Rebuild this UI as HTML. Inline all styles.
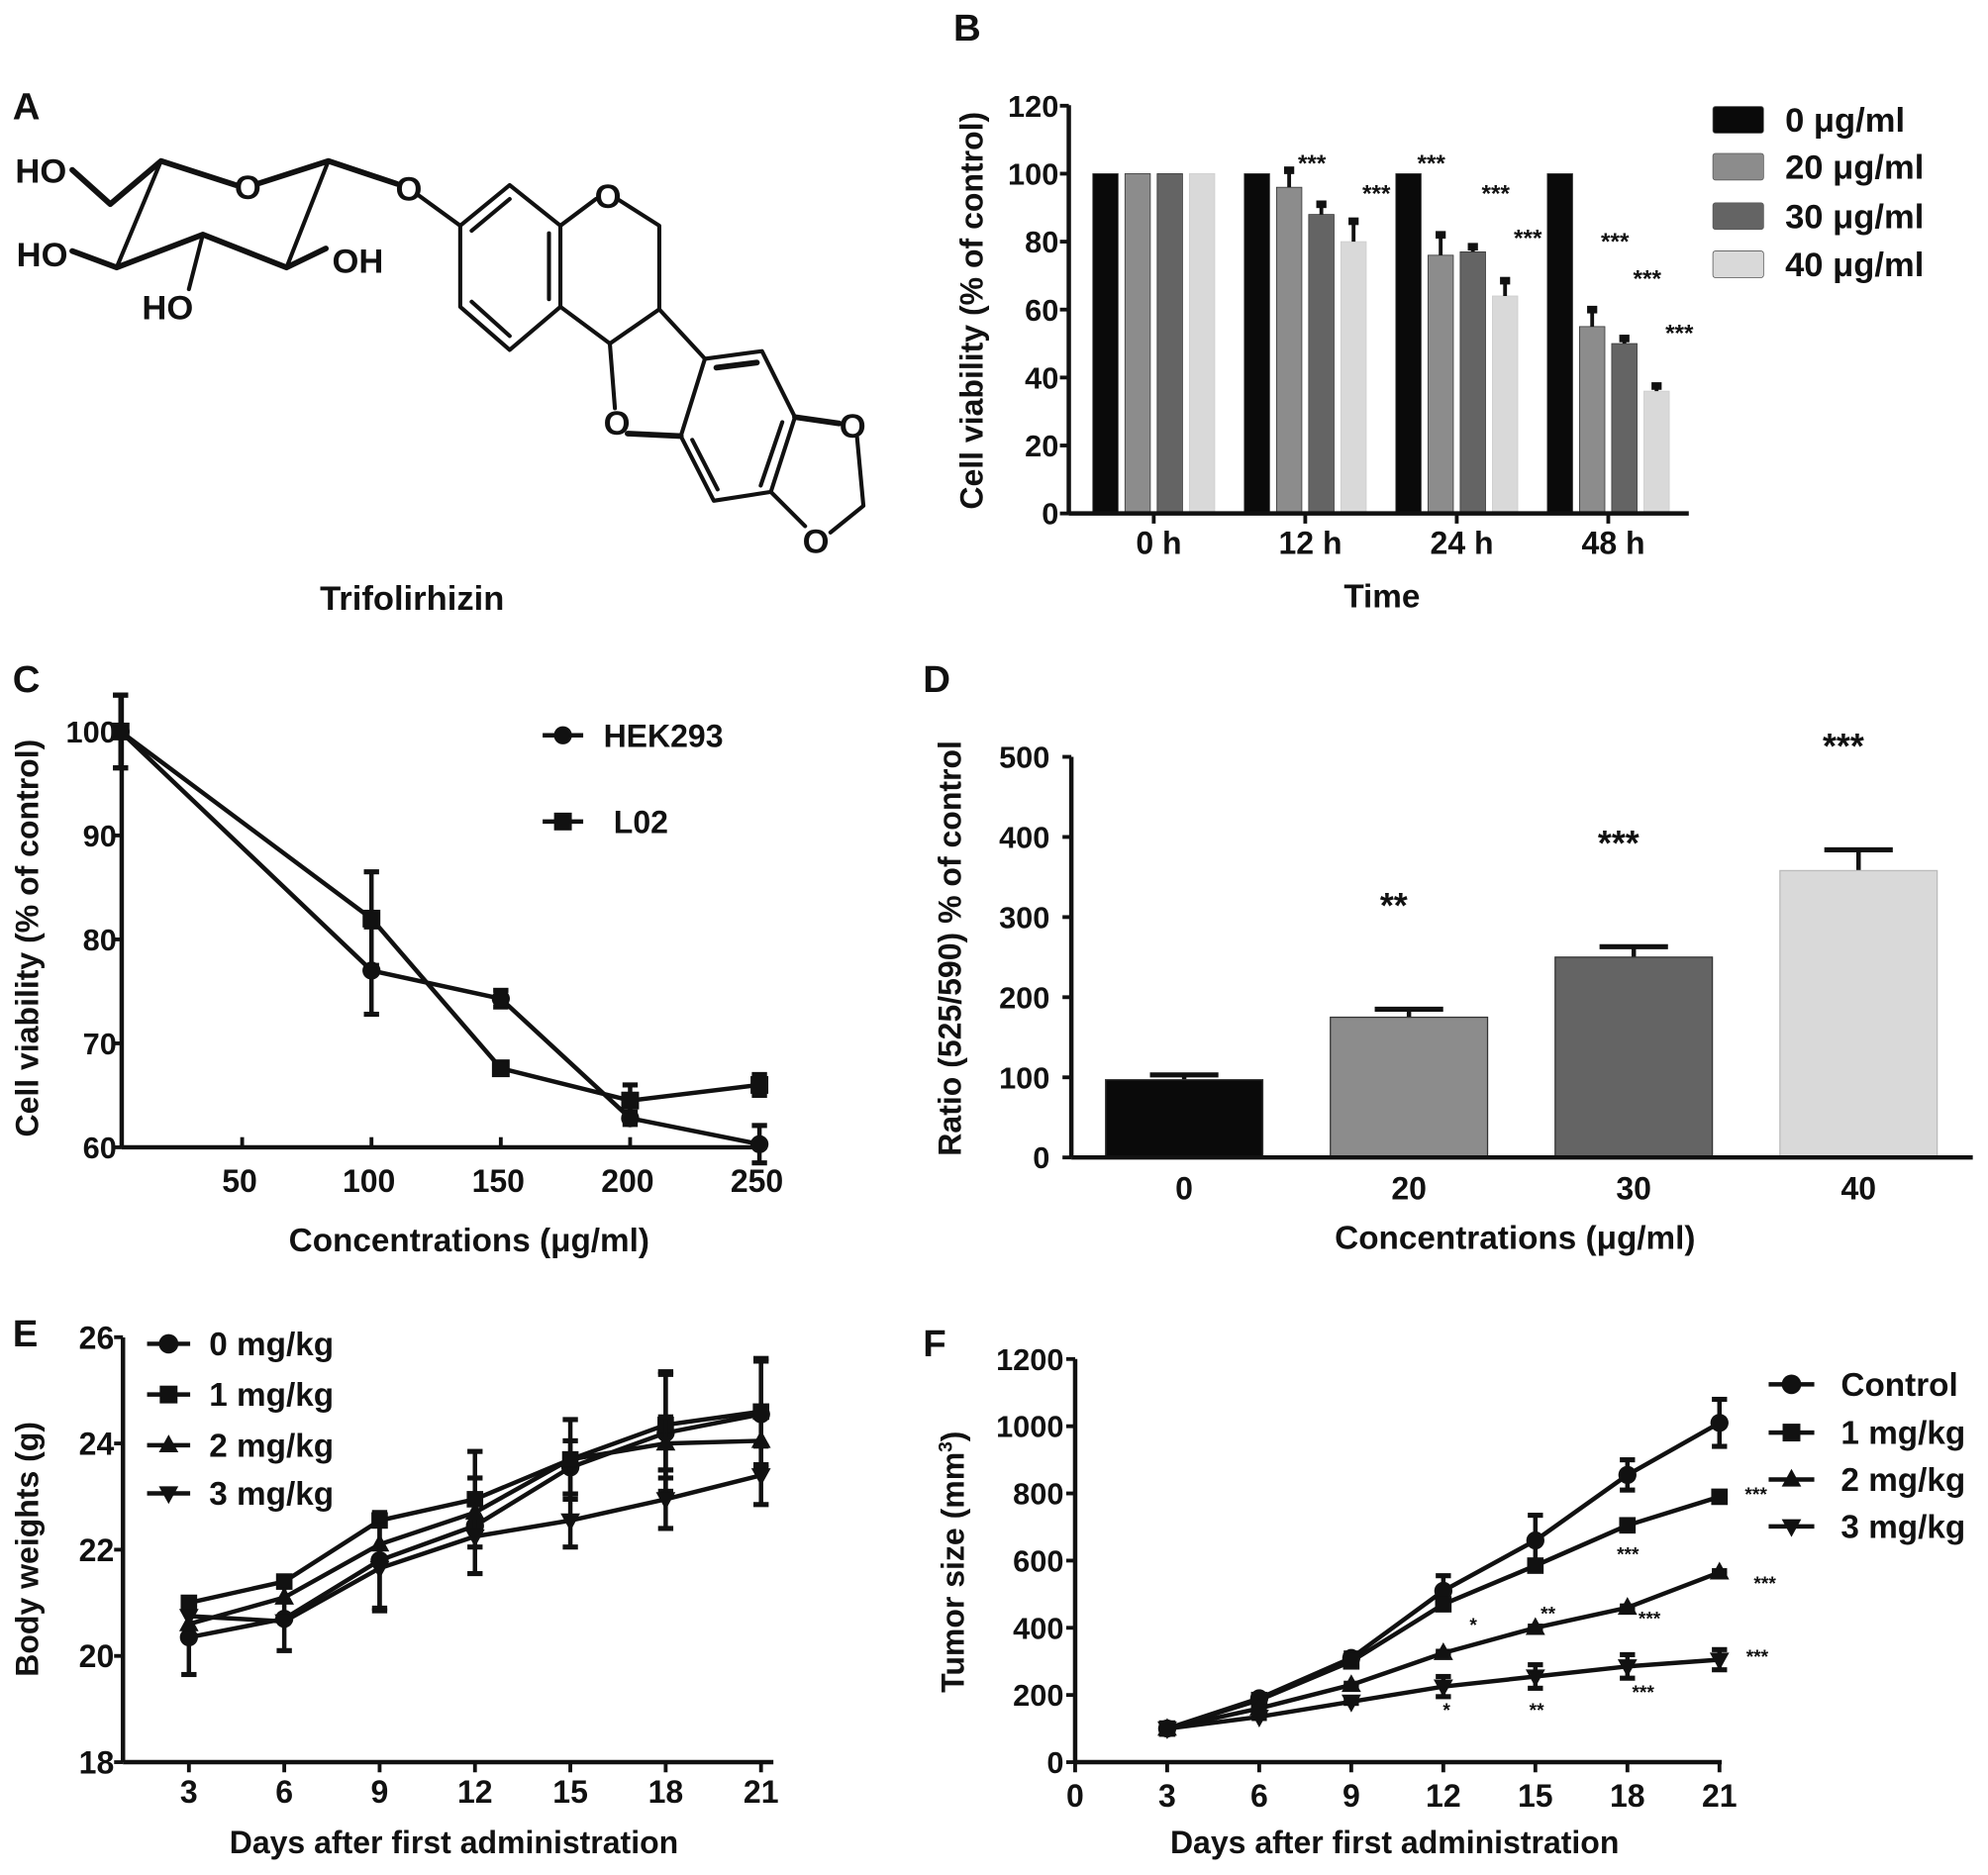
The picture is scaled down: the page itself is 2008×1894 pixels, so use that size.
<!DOCTYPE html>
<html><head><meta charset="utf-8">
<style>
html,body{margin:0;padding:0;background:#fff;}
svg{display:block;}
text{font-family:"Liberation Sans",sans-serif;font-weight:bold;fill:#111;}
.n{font-family:"Liberation Sans Narrow","Liberation Sans",sans-serif;}
</style></head>
<body>
<svg id="fig" xmlns="http://www.w3.org/2000/svg" width="2008" height="1894" viewBox="0 0 1568 1479" preserveAspectRatio="none">
<g id="panelA" stroke="#111" stroke-width="3.2" fill="none" stroke-linecap="round" stroke-linejoin="round">
<polyline points="57,134 87,161 127,127 186,146" stroke-width="4.5"/>
<polyline points="203,145 259,127 313,145" stroke-width="4.5"/>
<line x1="259" y1="127" x2="226" y2="211"/>
<line x1="127" y1="127" x2="92" y2="211"/>
<polyline points="57,198 92,211 160,185 226,211 257,196" stroke-width="4.5"/>
<line x1="160" y1="185" x2="149" y2="228"/>
<line x1="330" y1="154" x2="363" y2="178"/>
<polygon points="363,178 402,146 442,178 442,242 402,276 363,242"/>
<line x1="372" y1="182" x2="402" y2="157"/>
<line x1="433" y1="184" x2="433" y2="236"/>
<line x1="372" y1="238" x2="402" y2="265"/>
<polyline points="442,178 470,157"/>
<polyline points="487,157 520,178 520,244 481,271 442,242"/>
<line x1="481" y1="271" x2="485" y2="322"/>
<line x1="520" y1="244" x2="556" y2="283"/>
<line x1="495" y1="342" x2="537" y2="344" stroke-width="4.5"/>
<polygon points="537,344 556,283 601,277 627,329 608,388 563,395"/>
<line x1="565" y1="290" x2="597" y2="286" stroke-width="4.5"/>
<line x1="617" y1="333" x2="600" y2="383"/>
<line x1="546" y1="347" x2="566" y2="386"/>
<line x1="627" y1="329" x2="662" y2="334" stroke-width="4.5"/>
<polyline points="676,345 681,399 655,420"/>
<line x1="608" y1="388" x2="635" y2="415"/>
</g>
<g class="n" font-size="27">
<text class="n" x="12" y="144">HO</text>
<text class="n" x="13" y="210">HO</text>
<text class="n" x="112" y="252">HO</text>
<text class="n" x="262" y="215">OH</text>
<text class="n" x="185" y="157">O</text>
<text class="n" x="312" y="158">O</text>
<text class="n" x="469" y="164">O</text>
<text class="n" x="476" y="343">O</text>
<text class="n" x="662" y="345">O</text>
<text class="n" x="633" y="436">O</text>
</g>
<text class="n" x="325" y="481" font-size="27" text-anchor="middle">Trifolirhizin</text>
<text x="10" y="94" font-size="30">A</text>
<text x="752" y="32" font-size="30">B</text>
<text x="10" y="546" font-size="30">C</text>
<text x="728" y="546" font-size="30">D</text>
<text x="10" y="1062" font-size="30">E</text>
<text x="728" y="1070" font-size="30">F</text>
<g id="chartB"></g>
<g id="chartC"></g>
<g id="chartD"></g>
<g id="chartE"></g>
<g id="chartF"></g>
</svg>
<script>
// ---- Panel B data ----
const bCategories = ["0 h","12 h","24 h","48 h"];
const bSeriesNames = ["0  μg/ml","20 μg/ml","30 μg/ml","40 μg/ml"];
const b0 = [100,100,100,100];
const b20 = [100,96,76,55];
const b30 = [100,88,77,50];
const b40 = [100,80,64,36];
const b20err = [0,5,6,5];
const b30err = [0,3,1.5,1.5];
const b40err = [0,6,4.5,1.5];
const bTicks = [0,20,40,60,80,100,120];
const bStars = [["","","",""],["","***","","***"],["***","","***","***"],["","***","***","***"]];
const bStarY = [[0,0,0,0],[0,103,0,94],[103,0,94,81],[0,80,69,53]];
// ---- Panel C data ----
const cConc = [3,100,150,200,250];
const cHEK = [100,77,74.3,62.8,60.3];
const cHEKerr = [3.5,4.2,0.8,0.6,1.8];
const cL02 = [100,82,67.6,64.5,66];
const cL02err = [3.5,4.5,0.5,1.5,1];
const cXTicks = [50,100,150,200,250];
const cYTicks = [60,70,80,90,100];
// ---- Panel D data ----
const dCats = ["0","20","30","40"];
const dVals = [97,175,250,358];
const dErr = [6,10,13,26];
const dStars = ["","**","***","***"];
const dTicks = [0,100,200,300,400,500];
// ---- Panel E data ----
const eDays = [3,6,9,12,15,18,21];
const e0 = [20.35,20.7,21.8,22.45,23.55,24.2,24.55];
const e0err = [0.7,0.6,0.9,0.9,0.5,1.1,1.0];
const e1 = [21.0,21.4,22.55,22.95,23.7,24.35,24.6];
const e1err = [0.1,0.1,0.1,0.9,0.75,1.0,1.0];
const e2 = [20.6,21.1,22.1,22.7,23.7,24.0,24.05];
const e2err = [0.2,0.2,0.2,0.2,0.3,0.5,0.1];
const e3 = [20.75,20.65,21.65,22.25,22.55,22.95,23.4];
const e3err = [0.1,0.1,0.8,0.2,0.5,0.55,0.55];
const eYTicks = [18,20,22,24,26];
const eNames = ["0 mg/kg","1 mg/kg","2 mg/kg","3 mg/kg"];
// ---- Panel F data ----
const fDays = [3,6,9,12,15,18,21];
const fCtrl = [100,190,310,510,660,855,1010];
const fCtrlErr = [5,10,15,45,75,45,70];
const f1 = [100,185,300,470,585,705,790];
const f1err = [5,8,10,10,10,10,10];
const f2 = [100,160,230,325,400,460,565];
const f2err = [3,5,5,5,5,5,5];
const f3 = [100,135,180,225,255,285,305];
const f3err = [3,5,5,30,35,35,30];
const fXTicks = [0,3,6,9,12,15,18,21];
const fYTicks = [0,200,400,600,800,1000,1200];
const fNames = ["Control","1 mg/kg","2 mg/kg","3 mg/kg"];

const NS="http://www.w3.org/2000/svg";
function mk(parent,tag,attrs){const e=document.createElementNS(NS,tag);for(const k in attrs)e.setAttribute(k,attrs[k]);parent.appendChild(e);return e;}
function txt(parent,x,y,s,size,anchor,cls){const t=mk(parent,"text",{x:x,y:y,"font-size":size,"text-anchor":anchor||"start"});if(cls)t.setAttribute("class",cls);t.textContent=s;return t;}
function line(p,x1,y1,x2,y2,w){return mk(p,"line",{x1:x1,y1:y1,x2:x2,y2:y2,stroke:"#111","stroke-width":w||3});}

function marker(p,type,x,y,s){
  let e;
  if(type==="circle") e=mk(p,"circle",{cx:x,cy:y,r:s*0.55,fill:"#111"});
  else if(type==="square") e=mk(p,"rect",{x:x-s*0.5,y:y-s*0.5,width:s,height:s,fill:"#111"});
  else if(type==="tri") e=mk(p,"polygon",{points:(x)+","+(y-s*0.6)+" "+(x-s*0.55)+","+(y+s*0.4)+" "+(x+s*0.55)+","+(y+s*0.4),fill:"#111"});
  else e=mk(p,"polygon",{points:(x)+","+(y+s*0.6)+" "+(x-s*0.55)+","+(y-s*0.4)+" "+(x+s*0.55)+","+(y-s*0.4),fill:"#111"});
  return e;
}
function errbar(p,x,y1,y2,cap){
  line(p,x,y1,x,y2,3.5);line(p,x-cap,y1,x+cap,y1,4);line(p,x-cap,y2,x+cap,y2,4);
}
function series(g,name,xs,ys,errs,type,sx,sy,ms){
  const s=mk(g,"g",{});
  
  
  const pts=xs.map((v,i)=>sx(v)+","+sy(ys[i])).join(" ");
  const pl=mk(s,"polyline",{points:pts,fill:"none",stroke:"#111","stroke-width":3.5});
  
  
  xs.forEach((v,i)=>{
    if(errs[i]>0.3) errbar(s,sx(v),sy(ys[i]+errs[i]),sy(ys[i]-errs[i]),6);
    const m=marker(s,type,sx(v),sy(ys[i]),ms);
    
    
  });
}
function yAxis(g,x,ytop,ybot,ticks,sy,lblX,size){
  line(g,x,ytop,x,ybot,3.5);
  ticks.forEach(t=>{line(g,x-7,sy(t),x,sy(t),3);const l=txt(g,lblX,sy(t)+size*0.36,String(t),size,"end","n");
    
    });
}
function ytitle(g,x,y,s,size){const t=mk(g,"text",{x:0,y:0,"font-size":size,"text-anchor":"middle",transform:"translate("+x+","+y+") rotate(-90)"});t.textContent=s;
  
  return t;}

// ===== Panel B =====
(function(){
  const g=document.getElementById("chartB");
  const sy=v=>405-v*2.68;
  const centers=bCategories.map((c,i)=>910+i*119.5);
  const colors=["#0a0a0a","#8c8c8c","#646464","#d9d9d9"];
  const vals=[b0,b20,b30,b40], errs=[[0,0,0,0],b20err,b30err,b40err];
  vals.forEach((arr,si)=>{
    arr.forEach((v,ci)=>{
      const x=centers[ci]+(si-1.5)*25.4-10;
      const r=mk(g,"rect",{x:x,y:sy(v),width:20,height:sy(0)-sy(v),fill:colors[si],stroke:si===3?"#ccc":"#333","stroke-width":0.6});
      
      
      if(errs[si][ci]>0){const xc=x+10;line(g,xc,sy(v),xc,sy(v+errs[si][ci]),3);line(g,xc-4,sy(v+errs[si][ci]),xc+4,sy(v+errs[si][ci]),6);}
      const st=bStars[ci][si];
      if(st){const t=txt(g,x+10+18,sy(bStarY[ci][si])+6,st,19,"middle");}
    });
  });
  yAxis(g,843,83,405,bTicks,sy,835,24);
  line(g,843,405,1332,405,3.5);
  centers.forEach((c,i)=>{line(g,c,405,c,413,3);const l=txt(g,c+4,437,bCategories[i],25,"middle","n");});
  const xt=txt(g,1090,479,"Time",26,"middle","n");
  ytitle(g,775,245,"Cell viability (% of control)",25);
  const lc=["#0a0a0a","#8c8c8c","#646464","#d9d9d9"], ly=[94,131,170,208];
  bSeriesNames.forEach((n,i)=>{
    const r=mk(g,"rect",{x:1351,y:ly[i]-10,width:40,height:21,rx:2,fill:lc[i],stroke:"#555","stroke-width":0.6});
    
    const t=txt(g,1408,ly[i]+10,n,27,"start","n");
  });
})();

// ===== Panel C =====
(function(){
  const g=document.getElementById("chartC");
  const sx=v=>89+v*2.04, sy=v=>905-(v-60)*8.2;
  yAxis(g,96,548,905,cYTicks,sy,92,24);
  line(g,96,905,605,905,3.5);
  cXTicks.forEach(t=>{line(g,sx(t),905,sx(t),897,3);const l=txt(g,sx(t)-2,940,String(t),25,"middle","n");});
  series(g,"series-hek293",cConc,cHEK,cHEKerr,"circle",sx,sy,13);
  series(g,"series-l02",cConc,cL02,cL02err,"square",sx,sy,14);
  const xt=txt(g,370,987,"Concentrations (μg/ml)",26,"middle","n");
  ytitle(g,30,740,"Cell viability (% of control)",25);
  line(g,428,580,460,580,3.5);marker(g,"circle",444,580,13);
  let t=txt(g,476,589,"HEK293",25,"start","n");
  line(g,428,648,460,648,3.5);marker(g,"square",444,648,14);
  t=txt(g,484,657,"L02",25,"start","n");
})();

// ===== Panel D =====
(function(){
  const g=document.getElementById("chartD");
  const sy=v=>913-v*0.632;
  const colors=["#0a0a0a","#8c8c8c","#646464","#d9d9d9"];
  dVals.forEach((v,i)=>{
    const c=934+i*177.3;
    line(g,c,sy(v),c,sy(v+dErr[i]),3.5);line(g,c-27,sy(v+dErr[i]),c+27,sy(v+dErr[i]),4);
    const r=mk(g,"rect",{x:c-62,y:sy(v),width:124,height:sy(0)-sy(v),fill:colors[i],stroke:i===3?"#bbb":"#333","stroke-width":1});
    
    if(dStars[i]){const t=txt(g,c-12,sy(v+dErr[i])-72,dStars[i],28,"middle");}
    const l=txt(g,c,946,dCats[i],25,"middle","n");
  });
  yAxis(g,845,597,913,dTicks,sy,828,24);
  line(g,845,913,1556,913,3.5);
  const xt=txt(g,1195,985,"Concentrations (μg/ml)",26,"middle","n");
  ytitle(g,758,748,"Ratio (525/590) % of control",25);
})();

// ===== Panel E =====
(function(){
  const g=document.getElementById("chartE");
  const sx=d=>149+(d-3)*25.07, sy=v=>1390-(v-18)*41.9;
  yAxis(g,97,1055,1390,eYTicks,sy,90,25);
  line(g,97,1390,610,1390,3.5);
  eDays.forEach(d=>{line(g,sx(d),1390,sx(d),1398,3);const l=txt(g,sx(d),1422,String(d),25,"middle","n");});
  const types=["circle","square","tri","inv"];
  series(g,"series-0mgkg",eDays,e0,e0err,"circle",sx,sy,13);
  series(g,"series-1mgkg",eDays,e1,e1err,"square",sx,sy,13);
  series(g,"series-2mgkg",eDays,e2,e2err,"tri",sx,sy,14);
  series(g,"series-3mgkg",eDays,e3,e3err,"inv",sx,sy,14);
  const ly=[1060,1100,1140,1178];
  eNames.forEach((n,i)=>{line(g,116,ly[i],150,ly[i],3.5);marker(g,types[i],133,ly[i],14);
    const t=txt(g,165,ly[i]+9,n,26,"start","n");});
  const xt=txt(g,358,1462,"Days after first administration",25,"middle","n");
  ytitle(g,30,1222,"Body weights (g)",25);
})();

// ===== Panel F =====
(function(){
  const g=document.getElementById("chartF");
  const sx=d=>848+d*24.2, sy=v=>1390-v*0.265;
  yAxis(g,848,1072,1390,fYTicks,sy,839,24);
  line(g,848,1390,1358,1390,3.5);
  fXTicks.forEach(d=>{line(g,sx(d),1390,sx(d),1398,3);const l=txt(g,sx(d),1425,String(d),25,"middle","n");});
  const types=["circle","square","tri","inv"];
  series(g,"series-control",fDays,fCtrl,fCtrlErr,"circle",sx,sy,13);
  series(g,"series-1mgkg",fDays,f1,f1err,"square",sx,sy,13);
  series(g,"series-2mgkg",fDays,f2,f2err,"tri",sx,sy,14);
  series(g,"series-3mgkg",fDays,f3,f3err,"inv",sx,sy,14);
  const stars=[["***",1385,1184],["***",1284,1231],["*",1162,1287],["**",1221,1278],["***",1301,1282],["***",1392,1254],["***",1386,1312],["*",1141,1354],["**",1212,1354],["***",1296,1340]];
  stars.forEach(s=>{const t=txt(g,s[1],s[2],s[0],15,"middle");});
  const ly=[1092,1130,1167,1204];
  fNames.forEach((n,i)=>{line(g,1395,ly[i],1431,ly[i],3.5);marker(g,types[i],1413,ly[i],14);
    const t=txt(g,1452,ly[i]+9,n,26,"start","n");});
  const xt=txt(g,1100,1462,"Days after first administration",25,"middle","n");
  const yt=mk(g,"text",{x:0,y:0,"font-size":25,"text-anchor":"middle",transform:"translate(760,1232) rotate(-90)"});
  
  
  yt.textContent="Tumor size (mm";
  const sup=mk(yt,"tspan",{dy:-9,"font-size":15});sup.textContent="3";
  const cl=mk(yt,"tspan",{dy:9});cl.textContent=")";
})();
</script>
</body></html>
